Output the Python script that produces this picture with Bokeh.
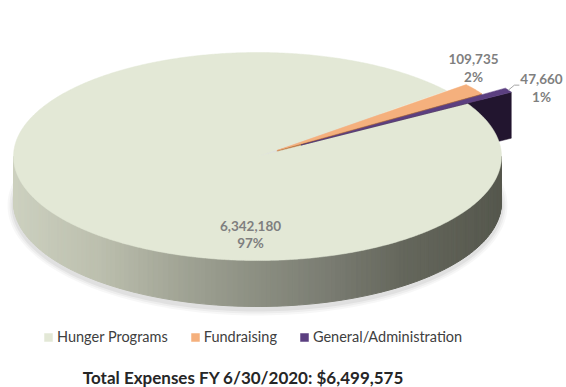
import numpy as np
from bokeh.plotting import figure
from bokeh.models import Range1d, Label, Legend, LegendItem, ColumnDataSource
from bokeh.embed import file_html
from bokeh.resources import INLINE

# ---------------- data ----------------
categories = ["Hunger Programs", "Fundraising", "General/Administration"]
amounts = [6342180, 109735, 47660]
percent_labels = ["97%", "2%", "1%"]
title_text = "Total Expenses FY 6/30/2020:  $6,499,575"

# ---------------- styles ----------------
top_colors = ["#e3e8d6", "#f5b07d", "#5b3f80"]
face_colors = [None, "#b8743f", "#22152f"]
explode = [0.0, 0.10, 0.21]
FONT = "Lato"

W, H = 566, 387
p = figure(width=W, height=H, x_range=Range1d(0, W), y_range=Range1d(H, 0),
           x_axis_type=None, y_axis_type=None, toolbar_location=None,
           output_backend="svg", min_border=0)
p.outline_line_color = None
p.background_fill_color = "white"
p.border_fill_color = "white"

# pie geometry (screen layout)
CX, CY, RX, RY, DEPTH = 257.0, 156.0, 244.0, 104.0, 46.0
END_ANGLE = 30.5  # math degrees where the clockwise sequence of slices ends

total = float(sum(amounts))
fracs = [a / total for a in amounts]
spans = [f * 360.0 for f in fracs]
starts, ends = [], []
a = END_ANGLE + 360.0
for s in spans:
    starts.append(a)
    ends.append(a - s)
    a -= s


def pt(theta_deg, r=1.0, dx=0.0, dy=0.0, down=0.0):
    t = np.radians(theta_deg)
    return CX + dx + r * RX * np.cos(t), CY + dy - r * RY * np.sin(t) + down


offsets = []
for i in range(len(amounts)):
    m = np.radians((starts[i] + ends[i]) / 2)
    offsets.append((explode[i] * RX * np.cos(m), -explode[i] * RY * np.sin(m)))

# ---- soft shadow under the pie ----
th = np.radians(np.linspace(0, 360, 200))
for k, alpha in [(6, 0.03), (4, 0.04), (2, 0.05)]:
    p.patch(list(CX + (RX + k) * np.cos(th)), list(CY + DEPTH + 3 + (RY + k) * np.sin(th)),
            fill_color="black", fill_alpha=alpha, line_color=None)

# ---- front wall of the big slice (shaded strips) ----
stops_t = [0.0, 0.18, 0.34, 0.5, 0.65, 0.8, 1.0]
stops_c = ["#cdd1c0", "#bcbfae", "#a2a596", "#8c8f82", "#7a7c72", "#65675c", "#56584e"]


def hex2rgb(h):
    h = h.lstrip("#")
    return np.array([int(h[i:i + 2], 16) for i in (0, 2, 4)], dtype=float)


stop_rgb = np.array([hex2rgb(c) for c in stops_c])


def wall_color(tt):
    r = np.interp(tt, stops_t, stop_rgb[:, 0])
    g = np.interp(tt, stops_t, stop_rgb[:, 1])
    b = np.interp(tt, stops_t, stop_rgb[:, 2])
    return "#%02x%02x%02x" % (int(r), int(g), int(b))


lo = max(180.0, ends[0])
hi = min(360.0, starts[0])
angs = np.linspace(lo, hi, 140)
wx, wy, wc = [], [], []
for a0, a1 in zip(angs[:-1], angs[1:]):
    x0, y0 = pt(a0)
    x1, y1 = pt(a1)
    x0b, y0b = pt(a0, down=DEPTH)
    x1b, y1b = pt(a1, down=DEPTH)
    wx.append([x0, x1, x1b, x0b])
    wy.append([y0, y1, y1b, y0b])
    tt = ((x0 + x1) / 2 - (CX - RX)) / (2 * RX)
    wc.append(wall_color(tt))
p.patches(wx, wy, fill_color=wc, line_color=wc, line_width=1)

# ---- radial cut faces of the exploded small slices ----
for i in (1, 2):
    dx, dy = offsets[i]
    xi, yi = CX + dx, CY + dy
    xo, yo = pt(ends[i], dx=dx, dy=dy)
    p.patch([xi, xo, xo, xi], [yi, yo, yo + DEPTH, yi + DEPTH],
            fill_color=face_colors[i], line_color=face_colors[i], line_width=0.5)

# ---- top faces ----
top_xs, top_ys = [], []
for i in range(len(amounts)):
    dx, dy = offsets[i]
    n = max(8, int(spans[i] * 2))
    ang = np.linspace(starts[i], ends[i], n)
    xs_ = [CX + dx]
    ys_ = [CY + dy]
    for t_ in ang:
        x_, y_ = pt(t_, dx=dx, dy=dy)
        xs_.append(x_)
        ys_.append(y_)
    top_xs.append(xs_)
    top_ys.append(ys_)

src = ColumnDataSource(dict(xs=top_xs, ys=top_ys, color=top_colors, name=categories))
tops = p.patches("xs", "ys", source=src, fill_color="color", line_color="color", line_width=0.5)

# ---- data labels ----
lab_color = "#7f7f7f"
label_pos = [(250, 225, 242), (473, 58, 76), (541, 78, 96)]
for i in range(len(amounts)):
    x, y1, y2 = label_pos[i]
    p.add_layout(Label(x=x, y=y1, text=f"{amounts[i]:,}", text_align="center",
                       text_baseline="middle", text_font=FONT, text_font_style="bold",
                       text_font_size="13.5px", text_color=lab_color))
    p.add_layout(Label(x=x, y=y2, text=percent_labels[i], text_align="center",
                       text_baseline="middle", text_font=FONT, text_font_style="bold",
                       text_font_size="13.5px", text_color=lab_color))

# leader line for the small slice
lx, ly = pt(ends[2] + spans[2] * 0.5, dx=offsets[2][0], dy=offsets[2][1])
p.line([lx, lx + 6, lx + 11], [ly, ly - 5, ly - 5], line_color="#a6a6a6", line_width=1)

# ---- legend ----
legend = Legend(items=[LegendItem(label=categories[i], renderers=[tops], index=i)
                       for i in range(len(categories))],
                orientation="horizontal", location=(43, 42),
                label_text_font=FONT, label_text_font_size="14.5px",
                label_text_color="#404040", glyph_width=10, glyph_height=10,
                label_height=10, label_standoff=4, spacing=22, padding=0, margin=0,
                border_line_color=None, background_fill_alpha=0)
p.add_layout(legend)

# ---- title at bottom ----
p.add_layout(Label(x=245, y=377, text=title_text, text_align="center",
                   text_baseline="middle", text_font=FONT, text_font_style="bold",
                   text_font_size="17px", text_color="#262626"))

open("out.html", "w").write(file_html(p, INLINE))
